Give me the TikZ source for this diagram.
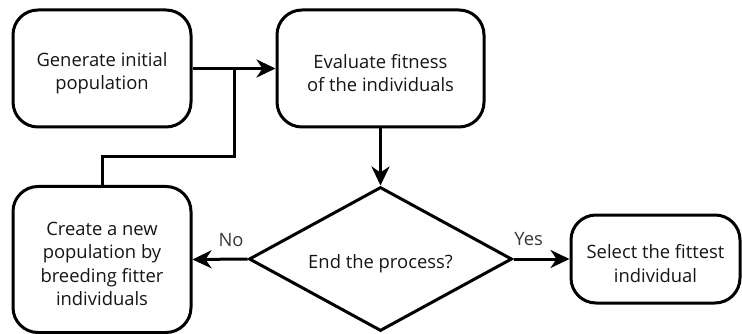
\documentclass[tikz,border=0pt]{standalone}
\usepackage{fontspec}
\setmainfont{Open Sans}
\usetikzlibrary{arrows.meta,shapes.geometric}
\definecolor{ink}{HTML}{151515}
\begin{document}
\begin{tikzpicture}[x=1pt,y=-1pt,
  every node/.style={font=\fontsize{18.4}{23.5}\selectfont, text=ink},
  caption/.style={align=center, inner sep=0pt, yshift=-4.5pt},
  proc/.style={draw=black, line width=3pt, rounded corners=25pt, inner sep=0pt,
    label={[caption]center:#1}},
  decide/.style={draw=black, line width=3pt, diamond, aspect=1.83, inner sep=0pt,
    label={[caption]center:#1}},
  flow/.style={draw=black, line width=3pt, -{Stealth[length=19pt,width=18pt,inset=6pt]}},
  link/.style={draw=black, line width=3pt},
  lbl/.style={font=\fontsize{18.4}{20}\selectfont, text=ink!85}
]
\useasboundingbox (0,0) rectangle (742,334);

\node[proc={Generate initial\\population}, minimum width=178pt, minimum height=117pt] (gen) at (102,68.5) {};
\node[proc={Evaluate fitness\\of the individuals}, minimum width=207pt, minimum height=117pt] (eval) at (380.5,68.5) {};
\node[decide={End the process?}, minimum width=263pt, minimum height=144pt] (end) at (380.5,259) {};
\node[proc={Create a new\\population by\\breeding fitter\\individuals}, minimum width=178pt, minimum height=146pt] (breed) at (102,259.5) {};
\node[proc={Select the fittest\\individual}, minimum width=169pt, minimum height=88pt] (sel) at (655.5,259) {};

% feedback path from the new population back into the evaluation arrow
\coordinate (joint) at (234,68.5);
\coordinate (bend) at (102,157);
\draw[flow] (gen.east) -- (eval.west);
\draw[link] (breed.north) -- (bend) -| (joint);
\draw[flow] (eval.south) -- (end.north);
\draw[flow] (end.west) -- (breed.east) node[lbl, pos=0.3, above=8pt] {No};
\draw[flow] (end.east) -- (sel.west) node[lbl, pos=0.27, above=8pt] {Yes};
\end{tikzpicture}
\end{document}
